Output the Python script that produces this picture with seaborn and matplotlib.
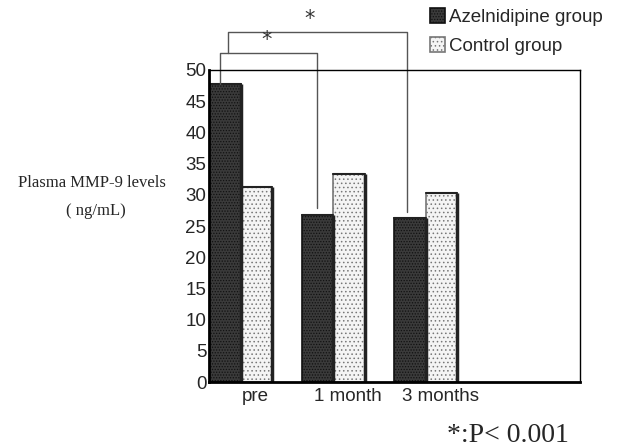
import matplotlib
matplotlib.use("Agg")
import matplotlib.pyplot as plt
import seaborn as sns
import pandas as pd

# values
periods = ["pre", "1 month", "3 months"]
azelValues = [47.8, 26.8, 26.3]
controlValues = [31.3, 33.3, 30.3]
groups = ["Azelnidipine group", "Control group"]
yTicks = list(range(0, 51, 5))

sns.set_style("white")
plt.rcParams['font.family'] = ['Liberation Sans', 'DejaVu Sans']
plt.rcParams['hatch.linewidth'] = 0.6

df = pd.DataFrame({
    "period": periods * 2,
    "value": azelValues + controlValues,
    "group": [groups[0]] * 3 + [groups[1]] * 3,
})

fig = plt.figure(figsize=(6.24, 4.48), dpi=100)
ax = fig.add_axes([0.335, 0.147, 0.594, 0.697])

sns.barplot(data=df, x="period", y="value", hue="group", order=periods, hue_order=groups,
            palette=["#3a3a3a", "#f4f4f4"], width=0.68, dodge=True, gap=0,
            edgecolor="black", linewidth=1.2, legend=False, ax=ax)

#Dotted fill patterns
for i, bar in enumerate(ax.patches):
    if i < 3:
        bar.set_hatch("......")
        bar.set_edgecolor("#111111")
    else:
        bar.set_hatch("....")
        bar.set_edgecolor("#777777")
    bar.set_linewidth(1.2)

# outline shadow on right side of each bar
for bar in ax.patches:
    x0 = bar.get_x() + bar.get_width()
    h = bar.get_height()
    ax.plot([x0, x0], [0, h], color="#222222", lw=2.5, solid_capstyle="butt")
    ax.plot([bar.get_x(), x0], [h, h], color="#222222", lw=1.5)

ax.set_xlim(-0.34, 3.66)
ax.set_ylim(0, 50)
ax.set_yticks(yTicks)
ax.set_yticklabels([str(t) for t in yTicks], fontsize=13.5)
ax.set_xticks([i + 0.16 for i in range(3)])
ax.set_xticklabels(periods, fontsize=13.5)
ax.set_xlabel("")
ax.set_ylabel("")
ax.tick_params(axis="y", length=0, pad=2)
ax.tick_params(axis="x", length=0, pad=4)

for side in ["left", "bottom"]:
    ax.spines[side].set_linewidth(2)
for side in ["top", "right"]:
    ax.spines[side].set_linewidth(1)
for sp in ax.spines.values():
    sp.set_color("black")
    sp.set_visible(True)

# significance brackets
bracketColor = "#555555"
ax.plot([-0.22, -0.22, 0.82, 0.82], [47.8, 52.7, 52.7, 27.9], color=bracketColor, lw=1, clip_on=False)
ax.plot([-0.14, -0.14, 1.80, 1.80], [52.7, 56.1, 56.1, 27.3], color=bracketColor, lw=1, clip_on=False)
ax.text(0.28, 53.2, "*", ha="center", va="bottom", fontsize=15, color="#333333",
        family="DejaVu Sans", clip_on=False)
ax.text(0.75, 56.6, "*", ha="center", va="bottom", fontsize=15, color="#333333",
        family="DejaVu Sans", clip_on=False)

# legend
fig.legend(ax.containers, groups, loc="upper left", bbox_to_anchor=(0.677, 0.998),
           frameon=False, fontsize=13.5, handlelength=0.8, handleheight=0.8,
           handletextpad=0.2, labelspacing=0.6, borderaxespad=0)

# y axis label and footnote
fig.text(0.147, 1 - 183 / 448, "Plasma MMP-9 levels", ha="center", va="center",
         fontsize=12, family="Liberation Serif")
fig.text(0.153, 1 - 211 / 448, "( ng/mL)", ha="center", va="center",
         fontsize=12, family="Liberation Serif")
fig.text(508 / 624, 1 - 435 / 448, "*:P< 0.001", ha="center", va="center",
         fontsize=20, family="Liberation Serif")

plt.savefig("out.png", dpi=100)
